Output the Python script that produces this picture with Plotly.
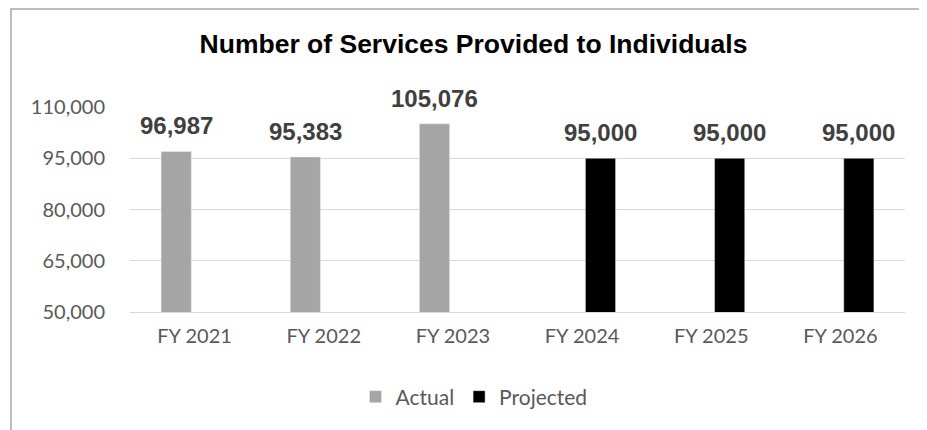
import plotly.graph_objects as go

categories = ["FY 2021", "FY 2022", "FY 2023", "FY 2024", "FY 2025", "FY 2026"]
actual = [96987, 95383, 105076, None, None, None]
projected = [None, None, None, 95000, 95000, 95000]
y_ticks = [50000, 65000, 80000, 95000, 110000]

# page shows the figure offset by the 8px body margin
W, H = 919, 422
L, R, T, B = 122, 22, 99, 118
plot_w = W - L - R
plot_h = H - T - B

fig = go.Figure()
fig.add_trace(go.Bar(name="Actual", x=categories, y=actual, marker_color="#a5a5a5"))
fig.add_trace(go.Bar(name="Projected", x=categories, y=projected, marker_color="#000000"))

label_font = dict(family="Liberation Sans, Arial", size=24, color="#404040")
for series, shift in ((actual, -18), (projected, 18)):
    for c, v in zip(categories, series):
        if v is None:
            continue
        fig.add_annotation(x=c, y=v, text=f"<b>{v:,}</b>", showarrow=False,
                           xshift=shift, yshift=10, yanchor="bottom", font=label_font)

def px_x(p):
    return (p - L) / plot_w

def px_y(p):
    return (H - B - p) / plot_h

fig.add_shape(type="rect", xref="paper", yref="paper",
              x0=px_x(3), x1=px_x(940), y0=px_y(445), y1=px_y(1),
              line=dict(color="#a6a6a6", width=1.5), fillcolor="rgba(0,0,0,0)", layer="below")

fig.update_layout(
    width=W, height=H,
    margin=dict(l=L, r=R, t=T, b=B),
    paper_bgcolor="white", plot_bgcolor="white",
    barmode="group", bargap=0.43, bargroupgap=0.18,
    title=dict(text="<b>Number of Services Provided to Individuals</b>",
               x=465.5 / W, xref="container", xanchor="center",
               y=1 - 36 / H, yref="container", yanchor="middle",
               font=dict(family="Liberation Sans, Arial", size=26.5, color="#000000")),
    font=dict(family="Lato", size=20, color="#595959"),
    showlegend=True,
    legend=dict(orientation="h", x=px_x(466), xanchor="center", y=px_y(389), yanchor="middle",
                font=dict(family="Lato", size=21, color="#595959"), traceorder="normal"),
)
fig.update_yaxes(range=[50000, 110000], tickvals=y_ticks, tickformat=",",
                 showgrid=True, gridcolor="#d9d9d9", gridwidth=1, zeroline=False,
                 ticks="outside", ticklen=20, tickcolor="rgba(0,0,0,0)",
                 tickfont=dict(family="Lato", size=20, color="#595959"))
fig.update_xaxes(showline=True, linecolor="#d9d9d9", linewidth=1,
                 ticks="outside", ticklen=6, tickcolor="rgba(0,0,0,0)",
                 tickfont=dict(family="Lato", size=20, color="#595959"))

fig.write_html("out.html")
